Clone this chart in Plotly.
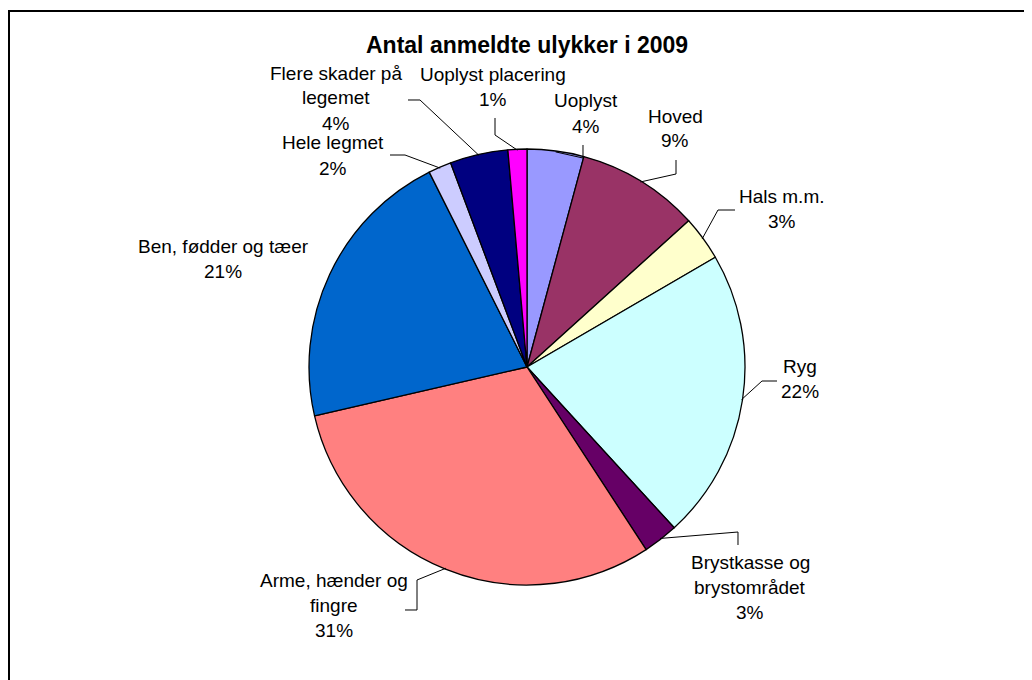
import math

import plotly.graph_objects as go

# Anmeldte ulykker 2009 fordelt på skadested (andel i %)
labels = [
    "Uoplyst",
    "Hoved",
    "Hals m.m.",
    "Ryg",
    "Brystkasse og brystområdet",
    "Arme, hænder og fingre",
    "Ben, fødder og tæer",
    "Hele legmet",
    "Flere skader på legemet",
    "Uoplyst placering",
]
values = [4.2, 9.1, 3.3, 21.6, 2.6, 30.6, 21.2, 1.7, 4.3, 1.4]
label_lines = [
    ["Uoplyst"],
    ["Hoved"],
    ["Hals m.m."],
    ["Ryg"],
    ["Brystkasse og", "brystområdet"],
    ["Arme, hænder og", "fingre"],
    ["Ben, fødder og tæer"],
    ["Hele legmet"],
    ["Flere skader på", "legemet"],
    ["Uoplyst placering"],
]
colors = [
    "#9999FF",
    "#993366",
    "#FFFFCC",
    "#CCFFFF",
    "#660066",
    "#FF8080",
    "#0066CC",
    "#CCCCFF",
    "#000080",
    "#FF00FF",
]

W, H = 1032, 680
OFF = 8  # page body margin
CX, CY, R = 527, 367, 218
FONT = "Liberation Sans, Arial, sans-serif"
LINE_GAP = 25

# label placement (pixel position of first text line) and leader elbows
label_pos = [
    (586, 101), (675, 116), (782, 196), (800, 366), (750, 562),
    (334, 580), (223, 247), (333, 143), (336, 73), (493, 75),
]
leader_elbows = [
    [(583, 145), (583, 158)],
    [(676, 160), (676, 174)],
    [(735, 210), (718, 210)],
    [(777, 381), (762, 381)],
    [(738, 545), (738, 532)],
    [(405, 610), (417, 610), (417, 580)],
    [],
    [(390, 155), (405, 155)],
    [(408, 100), (420, 100)],
    [(495, 118), (495, 135)],
]


def px(x):
    return (x - OFF) / W


def py(y):
    return 1 - (y - OFF) / H


fig = go.Figure(
    go.Pie(
        labels=labels,
        values=values,
        sort=False,
        direction="clockwise",
        rotation=0,
        textinfo="none",
        hoverinfo="label+percent",
        marker=dict(colors=colors, line=dict(color="black", width=1.3)),
        domain=dict(x=[px(CX - R), px(CX + R)], y=[py(CY + R), py(CY - R)]),
        showlegend=False,
    )
)

total = sum(values)
cum = 0.0
annotations = []
shapes = []
for name_lines, v, (lx, ly), elbows in zip(label_lines, values, label_pos, leader_elbows):
    mid = (cum + v / 2) / total
    cum += v
    pct = f"{round(v / total * 100)}%"
    for i, line in enumerate(name_lines + [pct]):
        annotations.append(
            dict(
                x=px(lx), y=py(ly + i * LINE_GAP), xref="paper", yref="paper",
                text=line, showarrow=False, xanchor="center", yanchor="middle",
                font=dict(family=FONT, size=19, color="black"),
            )
        )
    if elbows:
        ang = 2 * math.pi * mid
        ex, ey = CX + (R - 1) * math.sin(ang), CY - (R - 1) * math.cos(ang)
        pts = elbows + [(ex, ey)]
        path = "M " + " L ".join(f"{px(x):.5f},{py(y):.5f}" for x, y in pts)
        shapes.append(
            dict(type="path", xref="paper", yref="paper", path=path,
                 line=dict(color="black", width=1))
        )

# outer frame
shapes.append(
    dict(type="rect", xref="paper", yref="paper", x0=px(9), x1=1.02, y0=-0.02, y1=py(11),
         line=dict(color="black", width=2))
)

annotations.append(
    dict(
        x=px(527), y=py(45), xref="paper", yref="paper",
        text="<b>Antal anmeldte ulykker i 2009</b>", showarrow=False,
        xanchor="center", yanchor="middle",
        font=dict(family=FONT, size=23, color="black"),
    )
)

fig.update_layout(
    width=W,
    height=H,
    margin=dict(l=0, r=0, t=0, b=0),
    paper_bgcolor="white",
    plot_bgcolor="white",
    annotations=annotations,
    shapes=shapes,
)

fig.write_html("out.html")
